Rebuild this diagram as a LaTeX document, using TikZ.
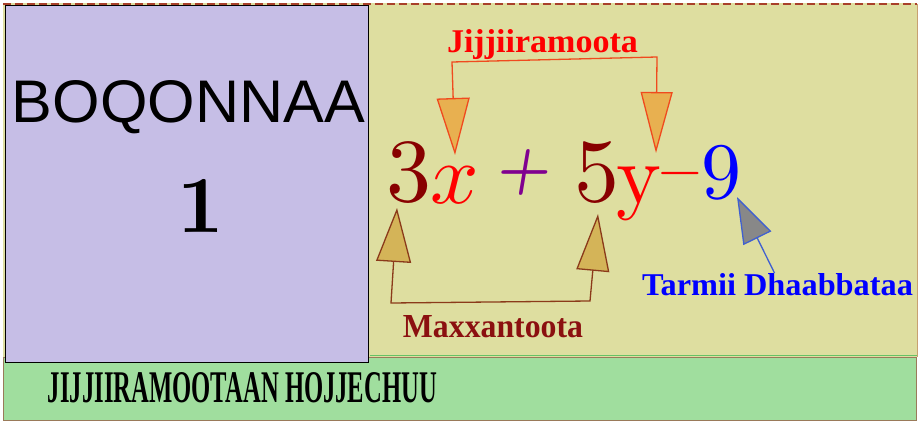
\documentclass[tikz,border=0pt]{standalone}
\usepackage{fontspec}
\usetikzlibrary{arrows.meta}
\newfontfamily\serifx{Liberation Serif}
\newfontfamily\sansx{Liberation Sans}
\newfontfamily\lmten{lmroman10-regular}[Extension=.otf]
\newfontfamily\lmtenb{lmroman10-bold}[Extension=.otf]
\newfontfamily\lmslb{lmromanslant10-bold}[Extension=.otf]
\newfontfamily\lmmath{latinmodern-math}[Extension=.otf]
\definecolor{bgyellow}{HTML}{DEDEA0}
\definecolor{bgpurple}{HTML}{C6BEE6}
\definecolor{bggreen}{HTML}{A0DE9E}
\definecolor{greenborder}{HTML}{9A7A5A}
\definecolor{topred}{HTML}{A8402A}
\definecolor{rightedge}{HTML}{C8A070}
\definecolor{dred}{HTML}{880000}
\definecolor{eqred}{HTML}{FF0000}
\definecolor{eqpurple}{HTML}{800090}
\definecolor{eqblue}{HTML}{0000FF}
\definecolor{jline}{HTML}{F04A1E}
\definecolor{jfill}{HTML}{E8B050}
\definecolor{mline}{HTML}{8B3A1A}
\definecolor{mfill}{HTML}{D4B458}
\definecolor{mtext}{HTML}{8B1010}
\definecolor{tline}{HTML}{4060D0}
\definecolor{tfill}{HTML}{888888}
\tikzset{
  txt/.style={inner sep=0pt, outer sep=0pt},
  jconn/.style={draw=jline, line width=1.3pt, line join=miter},
  mconn/.style={draw=mline, line width=1.3pt, line join=miter},
  tconn/.style={draw=tline, line width=1.3pt},
}
\begin{document}
\begin{tikzpicture}[x=1pt,y=-1pt]
\useasboundingbox (0,0) rectangle (919,423);
\fill[white] (0,0) rectangle (919,423);
% main yellow panel
\fill[bgyellow] (3,3) rectangle (917,357);
\draw[topred, line width=1.2pt, dash pattern=on 8pt off 4pt] (3,4) -- (917,4);
\draw[rightedge, line width=1pt] (917,4) -- (917,357);
% green band
\node[txt, fill=bggreen, draw=greenborder, line width=1pt, minimum width=913pt, minimum height=63pt, anchor=north west] (band) at (3,357) {};
\draw[green!60!black!60, line width=1pt] (370,355.5) -- (917,355.5);
% purple box
\node[txt, fill=bgpurple, draw=black, line width=1pt, minimum width=363pt, minimum height=357pt, anchor=north west] (col) at (5,5) {};
\node[txt, anchor=base] (boq) at (188.5,122) {\resizebox{353pt}{42pt}{\sansx BOQONNAA}};
\node[txt, anchor=base] (one) at (201,232) {\lmtenb\fontsize{81}{81}\selectfont 1};
% bottom title
\node[txt, anchor=base] (title) at (242.5,402) {\resizebox{389pt}{30pt}{\serifx\bfseries JIJJIIRAMOOTAAN HOJJECHUU}};
% equation
\node[txt, anchor=base, text=dred] (n3) at (409,201) {\lmten\fontsize{90}{90}\selectfont 3};
\node[txt, anchor=base, text=eqred] (nx) at (455,203) {\lmmath\fontsize{85}{85}\selectfont ^^^^^^01d465};
\node[txt, text=eqpurple] (np) at (522,172) {\lmslb\fontsize{60}{60}\selectfont +};
\node[txt, anchor=base, text=dred] (n5) at (597,201) {\lmten\fontsize{90}{90}\selectfont 5};
\node[txt, anchor=base, text=eqred] (ny) at (639,203) {\lmten\fontsize{85}{85}\selectfont y};
\node[txt, text=eqred] (nm) at (680,180) {\lmmath\fontsize{56}{56}\selectfont\bfseries ^^^^2212};
\node[txt, anchor=base, text=eqblue] (n9) at (721,198) {\lmten\fontsize{80}{80}\selectfont 9};
% labels
\node[txt, anchor=base, text=eqred] (jl) at (542.5,52) {\resizebox{191pt}{23pt}{\serifx\bfseries Jijjiiramoota}};
\node[txt, anchor=base, text=mtext] (ml) at (493,337) {\resizebox{180pt}{22pt}{\serifx\bfseries Maxxantoota}};
\node[txt, anchor=base, text=eqblue] (tl) at (777.5,295) {\resizebox{271pt}{22pt}{\serifx\bfseries Tarmii Dhaabbataa}};
% connector coordinates
\coordinate (tA) at (455,155);
\coordinate (cA) at (452,62);
\coordinate (cB) at (657,57);
\coordinate (tB) at (656,153);
\coordinate (tC) at (397,208);
\coordinate (cC) at (391,303);
\coordinate (cD) at (590,301);
\coordinate (tD) at (598,214);
\coordinate (tE) at (737,197);
% connectors
\draw[jconn, {Triangle[length=57pt,width=33pt,fill=jfill]}-{Triangle[length=61pt,width=32pt,fill=jfill]}]
  (tA) -- (cA) -- (cB) -- (tB);
\draw[mconn, {Triangle[length=54pt,width=35pt,fill=mfill]}-{Triangle[length=57pt,width=33pt,fill=mfill]}]
  (tC) -- (cC) -- (cD) -- (tD);
\draw[tconn, -{Triangle[length=46pt,width=31pt,fill=tfill]}] ([xshift=-3pt]tl.north) -- (tE);
\end{tikzpicture}
\end{document}
